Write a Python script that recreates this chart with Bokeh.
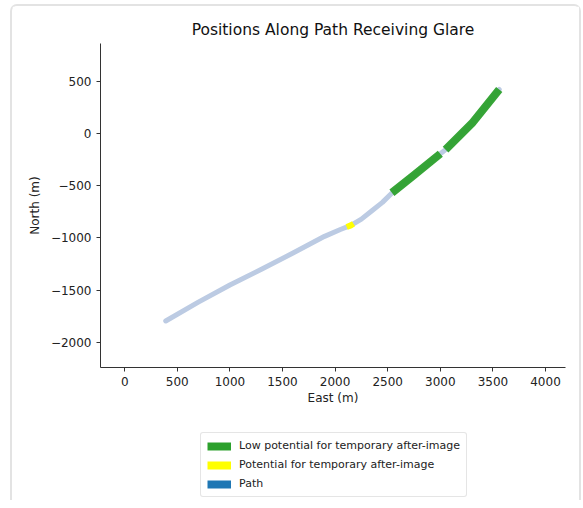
from bokeh.plotting import figure
from bokeh.layouts import column
from bokeh.models import Range1d, Legend, LegendItem, FixedTicker, ColumnDataSource
from bokeh.embed import file_html
from bokeh.resources import INLINE

# Path geometry (East, North in metres)
path_east = [390, 700, 1000, 1300, 1600, 1900, 2050, 2150, 2250, 2350, 2450, 2550, 2750, 3000, 3050, 3300, 3560]
path_north = [-1795, -1615, -1450, -1300, -1145, -985, -920, -880, -820, -740, -660, -560, -400, -195, -155, 95, 420]

# Glare segments
green1_east = [2540, 2750, 3000]
green1_north = [-568, -400, -195]
green2_east = [3050, 3300, 3560]
green2_north = [-155, 95, 420]
yellow_east = [2110, 2150, 2175]
yellow_north = [-896, -880, -865]

x_ticks = [0, 500, 1000, 1500, 2000, 2500, 3000, 3500, 4000]
y_ticks = [-2000, -1500, -1000, -500, 0, 500]

legend_labels = ["Low potential for temporary after-image",
                 "Potential for temporary after-image",
                 "Path"]
legend_colors = ["#2ca02c", "#ffff00", "#1f77b4"]

FONT = "DejaVu Sans"

p = figure(width=567, height=404, output_backend="svg", toolbar_location=None,
           x_range=Range1d(-230, 4190), y_range=Range1d(-2240, 860),
           title="Positions Along Path Receiving Glare",
           min_border_left=88, min_border_right=14, min_border_top=37, min_border_bottom=43)
p.title.align = "center"
p.title.text_font = FONT
p.title.text_font_size = "15.5px"
p.title.text_font_style = "normal"
p.title.text_color = "#111111"

p.outline_line_color = None
p.grid.visible = False
for ax in (p.xaxis[0], p.yaxis[0]):
    ax.major_label_text_font = FONT
    ax.major_label_text_font_size = "12px"
    ax.major_label_text_color = "#222222"
    ax.axis_label_text_font = FONT
    ax.axis_label_text_font_size = "12px"
    ax.axis_label_text_font_style = "normal"
    ax.axis_label_text_color = "#222222"
    ax.minor_tick_line_color = None
    ax.major_tick_out = 4
    ax.major_tick_in = 0
    ax.axis_line_color = "#333333"
    ax.major_tick_line_color = "#333333"
p.xaxis.ticker = FixedTicker(ticks=x_ticks)
p.yaxis.ticker = FixedTicker(ticks=y_ticks)
p.yaxis.major_label_overrides = {t: str(t).replace("-", "\u2212") for t in y_ticks}
p.xaxis.axis_label = "East (m)"
p.yaxis.axis_label = "North (m)"
p.xaxis.axis_label_standoff = 2
p.yaxis.axis_label_standoff = 6

p.line(path_east, path_north, line_color="#bccbe3", line_width=5, line_cap="round", line_join="round")
p.line(green1_east, green1_north, line_color="#2ca02c", line_width=8, line_alpha=0.95, line_join="round")
p.line(green2_east, green2_north, line_color="#2ca02c", line_width=8, line_alpha=0.95, line_join="round")
p.line(yellow_east, yellow_north, line_color="#ffff00", line_width=6)

# Legend lives in a small companion figure placed under the chart
q = figure(width=567, height=90, output_backend="svg", toolbar_location=None,
           x_range=Range1d(0, 1), y_range=Range1d(0, 1),
           x_axis_location=None, y_axis_location=None,
           min_border_left=0, min_border_right=0, min_border_top=0, min_border_bottom=0)
q.outline_line_color = None
q.grid.visible = False
nan_src = ColumnDataSource(data=dict(x=[float("nan")], y=[float("nan")]))
items = []
for lab, col in zip(legend_labels, legend_colors):
    r = q.line("x", "y", source=nan_src, line_color=col, line_width=8)
    items.append(LegendItem(label=lab, renderers=[r]))

legend = Legend(items=items, location=(100, 3))
legend.label_text_font = FONT
legend.label_text_font_size = "11px"
legend.label_text_color = "#222222"
legend.glyph_width = 24
legend.glyph_height = 10
legend.label_height = 12
legend.label_standoff = 8
legend.spacing = 6
legend.padding = 6
legend.margin = 0
legend.border_line_color = "#cccccc"
legend.border_line_width = 1
legend.border_radius = 3
q.add_layout(legend, "center")

layout = column(p, q, spacing=0)
layout.styles = {"border": "2px solid #e3e3e3", "border-bottom": "none",
                 "border-radius": "7px 7px 0 0",
                 "margin-left": "10px", "margin-top": "4px"}
open("out.html", "w").write(file_html(layout, INLINE))
